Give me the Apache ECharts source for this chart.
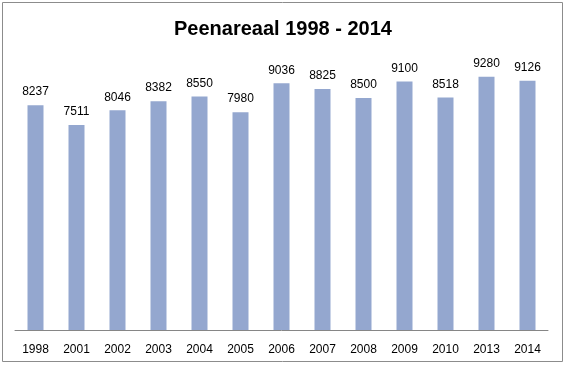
<!DOCTYPE html>
<html><head><meta charset="utf-8">
<script src="https://cdn.jsdelivr.net/npm/echarts@6/dist/echarts.min.js"></script>
<style>html,body{margin:0;padding:0;background:#fff}#c{width:566px;height:370px}</style>
</head><body><div id="c"></div>
<script>
const categories = ['1998','2001','2002','2003','2004','2005','2006','2007','2008','2009','2010','2013','2014'];
const values = [8237,7511,8046,8382,8550,7980,9036,8825,8500,9100,8518,9280,9126];
const titleText = 'Peenareaal 1998 - 2014';
const chart = echarts.init(document.getElementById('c'));
chart.setOption({
  animation:false,
  backgroundColor:'#fff',
  title:{text:titleText,left:'center',top:14,textStyle:{fontFamily:'Liberation Sans',fontWeight:'bold',fontSize:20,color:'#000'}},
  graphic:[{type:'rect',shape:{x:2.5,y:2.5,width:560,height:359},style:{fill:'none',stroke:'#8c8c8c',lineWidth:1}}],
  grid:{left:15,right:18,top:57,bottom:40},
  xAxis:{type:'category',data:categories,axisTick:{show:false},axisLine:{lineStyle:{color:'#868686'}},
    axisLabel:{color:'#000',fontFamily:'Liberation Sans',fontSize:12,margin:14}},
  yAxis:{type:'value',min:0,max:10000,show:false,splitLine:{show:false}},
  series:[{type:'bar',data:values,barWidth:16,itemStyle:{color:'#94A7CF'},
    label:{show:true,position:'top',distance:7,color:'#000',fontFamily:'Liberation Sans',fontSize:12}}]
});
</script></body></html>
